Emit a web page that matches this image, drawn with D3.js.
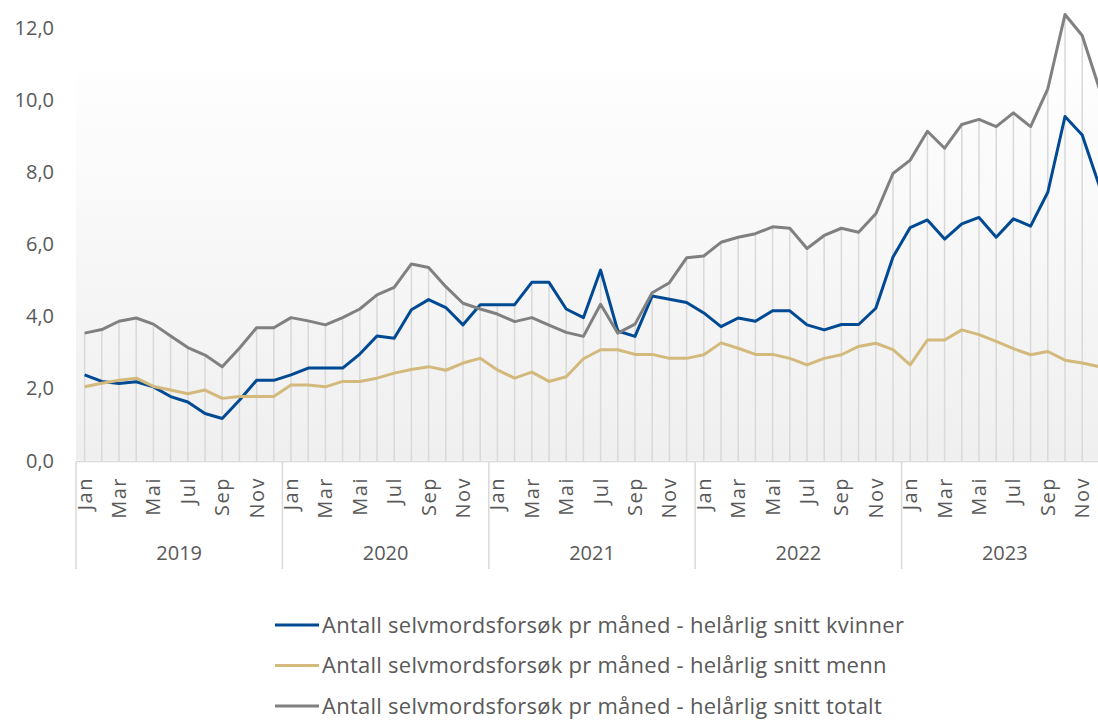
<!DOCTYPE html>
<html>
<head>
<meta charset="utf-8">
<script src="https://cdn.jsdelivr.net/npm/d3@7"></script>
<style>
  body { margin: 0; background: #fff; }
  svg { display: block; }
  text { font-family: "Open Sans", sans-serif; fill: #595959; }
</style>
</head>
<body>
<script>
// months / years on the x axis
var years = ["2019", "2020", "2021", "2022", "2023"];
var monthNames = ["Jan", "Feb", "Mar", "Apr", "Mai", "Jun", "Jul", "Aug", "Sep", "Okt", "Nov", "Des"];
var yTicks = [0, 2, 4, 6, 8, 10, 12];

// helårlig snitt per måned, Jan 2019 - Des 2023
var kvinner = [
  2.36, 2.18, 2.12, 2.17, 2.03, 1.76, 1.61, 1.29, 1.15, 1.66, 2.21, 2.21,
  2.36, 2.55, 2.55, 2.55, 2.94, 3.44, 3.38, 4.17, 4.45, 4.23, 3.75, 4.31,
  4.31, 4.31, 4.93, 4.93, 4.19, 3.95, 5.27, 3.58, 3.43, 4.55, 4.46, 4.37,
  4.08, 3.70, 3.94, 3.85, 4.14, 4.14, 3.75, 3.61, 3.76, 3.76, 4.21, 5.63,
  6.45, 6.66, 6.13, 6.55, 6.73, 6.18, 6.69, 6.49, 7.43, 9.53, 9.02, 7.60
];
var menn = [
  2.03, 2.13, 2.21, 2.27, 2.04, 1.94, 1.84, 1.94, 1.71, 1.76, 1.76, 1.76,
  2.08, 2.08, 2.03, 2.18, 2.18, 2.27, 2.41, 2.51, 2.59, 2.49, 2.69, 2.82,
  2.50, 2.27, 2.44, 2.18, 2.31, 2.81, 3.06, 3.06, 2.93, 2.93, 2.82, 2.82,
  2.92, 3.25, 3.10, 2.93, 2.93, 2.82, 2.64, 2.82, 2.92, 3.15, 3.24, 3.06,
  2.64, 3.33, 3.33, 3.61, 3.48, 3.29, 3.09, 2.92, 3.01, 2.77, 2.69, 2.59
];
var totalt = [
  3.52, 3.62, 3.85, 3.94, 3.77, 3.44, 3.12, 2.91, 2.59, 3.10, 3.67, 3.67,
  3.95, 3.86, 3.75, 3.95, 4.19, 4.58, 4.79, 5.44, 5.34, 4.81, 4.35, 4.19,
  4.05, 3.84, 3.95, 3.74, 3.54, 3.43, 4.32, 3.52, 3.77, 4.64, 4.92, 5.61,
  5.66, 6.04, 6.18, 6.28, 6.47, 6.43, 5.87, 6.23, 6.43, 6.32, 6.83, 7.95,
  8.32, 9.12, 8.65, 9.31, 9.45, 9.25, 9.63, 9.25, 10.30, 12.36, 11.78, 10.30
];

var seriesNames = [
  "Antall selvmordsforsøk pr måned - helårlig snitt kvinner",
  "Antall selvmordsforsøk pr måned - helårlig snitt menn",
  "Antall selvmordsforsøk pr måned - helårlig snitt totalt"
];
var seriesColors = ["#004a93", "#d4b97c", "#808080"];

var width = 1098,
    height = 722;

var svg = d3.select("body")
  .append("svg")
  .attr("width", width)
  .attr("height", height);

// one band per month
var months = d3.range(years.length * 12);
var x = d3.scaleBand()
  .domain(months)
  .range([76, 76 + 17.2 * months.length]);

var y = d3.scaleLinear()
  .domain([0, 12])
  .range([460, 27.5]);

var cx = function(i){ return x(i) + x.bandwidth() / 2; };

// plot background gradient
var grad = svg.append("defs").append("linearGradient")
  .attr("id", "bg")
  .attr("x1", 0).attr("y1", 0).attr("x2", 0).attr("y2", 1);
grad.append("stop").attr("offset", "0%").attr("stop-color", "#fefefe");
grad.append("stop").attr("offset", "100%").attr("stop-color", "#efefef");

svg.append("rect")
  .attr("x", x.range()[0])
  .attr("y", 72)
  .attr("width", x.range()[1] - x.range()[0])
  .attr("height", y(0) - 72)
  .attr("fill", "url(#bg)");

// drop lines from highest point to the axis
svg.selectAll(".drop")
  .data(months)
  .enter()
  .append("line")
  .attr("class", "drop")
  .attr("x1", cx).attr("x2", cx)
  .attr("y1", function(i){ return y(Math.max(kvinner[i], menn[i], totalt[i])); })
  .attr("y2", y(0) + 1)
  .attr("stroke", "#d9d9d9")
  .attr("stroke-width", 1.5);

// y axis
var nb = d3.formatLocale({decimal: ",", thousands: " ", grouping: [3], currency: ["", ""]});
var yAxis = svg.append("g")
  .attr("transform", "translate(54,0)")
  .call(d3.axisLeft(y).tickValues(yTicks).tickFormat(nb.format(".1f")).tickSize(0).tickPadding(0));
yAxis.select(".domain").remove();
yAxis.selectAll("text")
  .style("font-size", "20px")
  .attr("fill", "#595959")
  .attr("dy", "0.35em");

// x axis frame
var axisY = y(0) + 1.5;
svg.append("line")
  .attr("x1", x.range()[0]).attr("x2", x.range()[1])
  .attr("y1", axisY).attr("y2", axisY)
  .attr("stroke", "#d9d9d9").attr("stroke-width", 1.5);

svg.selectAll(".ysep")
  .data(d3.range(years.length + 1))
  .enter()
  .append("line")
  .attr("class", "ysep")
  .attr("x1", function(k){ return 76 + k * 12 * x.step(); })
  .attr("x2", function(k){ return 76 + k * 12 * x.step(); })
  .attr("y1", axisY).attr("y2", 569)
  .attr("stroke", "#d9d9d9").attr("stroke-width", 1.5);

// month labels (every second month)
svg.selectAll(".mlab")
  .data(months.filter(function(i){ return i % 2 === 0; }))
  .enter()
  .append("text")
  .attr("class", "mlab")
  .attr("transform", function(i){ return "translate(" + (cx(i) + 7) + ",477) rotate(-90)"; })
  .attr("text-anchor", "end")
  .style("font-size", "20px")
  .style("letter-spacing", "1.5px")
  .text(function(i){ return monthNames[i % 12]; });

// year labels
svg.selectAll(".ylab")
  .data(years)
  .enter()
  .append("text")
  .attr("class", "ylab")
  .attr("x", function(d, k){ return 76 + (k + 0.5) * 12 * x.step(); })
  .attr("y", 560)
  .attr("text-anchor", "middle")
  .style("font-size", "20px")
  .text(function(d){ return d; });

// series lines
var line = d3.line()
  .x(function(d, i){ return cx(i); })
  .y(function(d){ return y(d); });

[kvinner, menn, totalt].forEach(function(s, k){
  svg.append("path")
    .datum(s)
    .attr("fill", "none")
    .attr("stroke", seriesColors[k])
    .attr("stroke-width", 3)
    .attr("stroke-linejoin", "round")
    .attr("d", line);
});

// legend
var legend = svg.selectAll(".leg")
  .data(seriesNames)
  .enter()
  .append("g")
  .attr("class", "leg")
  .attr("transform", function(d, k){ return "translate(0," + (625 + k * 40.5) + ")"; });
legend.append("line")
  .attr("x1", 275).attr("x2", 319)
  .attr("stroke", function(d, k){ return seriesColors[k]; })
  .attr("stroke-width", 3);
legend.append("text")
  .attr("x", 322)
  .attr("dy", "0.36em")
  .style("font-size", "22px")
  .style("letter-spacing", "0.25px")
  .text(function(d){ return d; });
</script>
</body>
</html>
